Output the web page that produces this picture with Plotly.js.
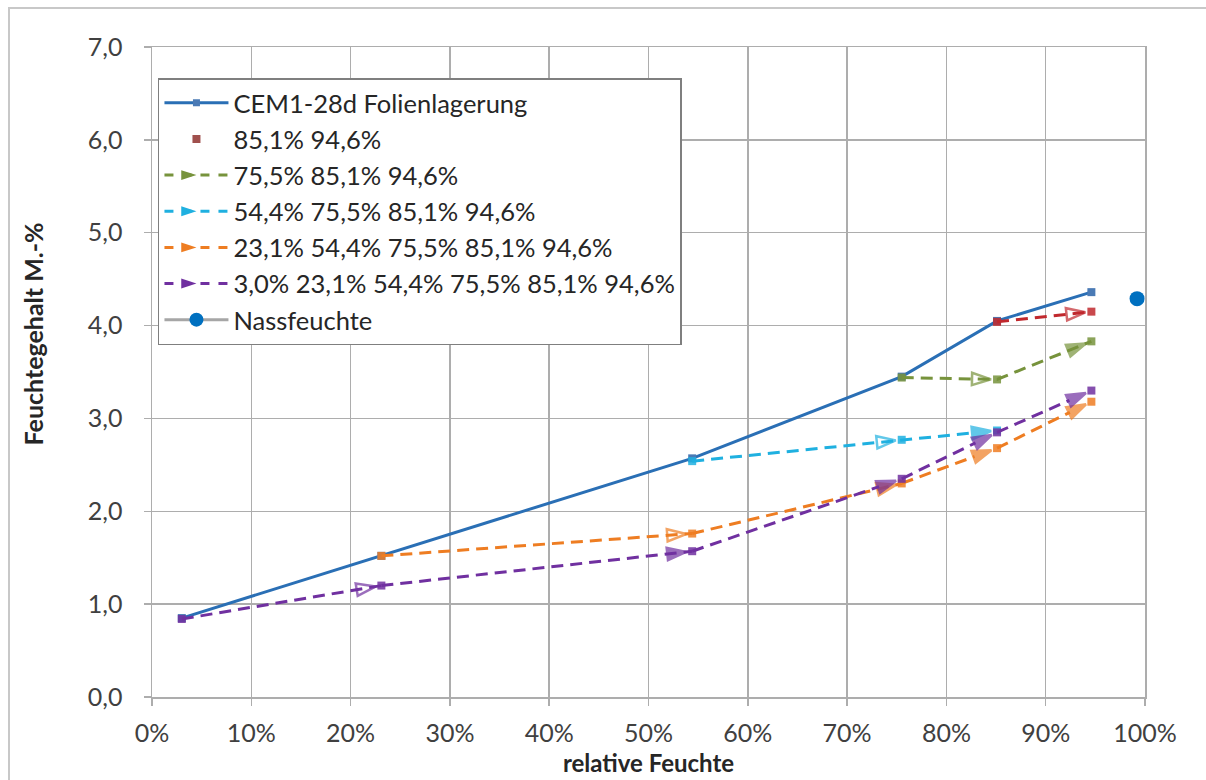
<!DOCTYPE html>
<html><head><meta charset="utf-8">
<script src="https://cdn.plot.ly/plotly-3.0.1.min.js"></script>
<style>html,body{margin:0;padding:0;background:#fff}#chart{width:1206px;height:780px}</style>
</head><body><div id="chart"></div>
<script>
// ---- data ----
const rhCem = [3.0, 23.1, 54.4, 75.5, 85.1, 94.6];
const valCem = [0.85, 1.52, 2.57, 3.45, 4.05, 4.36];
const rh851 = [85.1, 94.6];
const val851 = [4.04, 4.15];
const rh755 = [75.5, 85.1, 94.6];
const val755 = [3.44, 3.42, 3.83];
const rh544 = [54.4, 75.5, 85.1];
const val544 = [2.54, 2.77, 2.87];
const rh231 = [23.1, 54.4, 75.5, 85.1, 94.6];
const val231 = [1.52, 1.76, 2.30, 2.68, 3.18];
const rh30 = [3.0, 23.1, 54.4, 75.5, 85.1, 94.6];
const val30 = [0.84, 1.20, 1.57, 2.35, 2.85, 3.30];
const rhNass = [99.2];
const valNass = [4.29];
const names = [
  "CEM1-28d Folienlagerung",
  "85,1% 94,6%",
  "75,5% 85,1% 94,6%",
  "54,4% 75,5% 85,1% 94,6%",
  "23,1% 54,4% 75,5% 85,1% 94,6%",
  "3,0% 23,1% 54,4% 75,5% 85,1% 94,6%",
  "Nassfeuchte"
];
const xTitle = "relative Feuchte";
const yTitle = "Feuchtegehalt M.-%";

// ---- styles ----
const cBlue = "#2a6fb5", cBlueMk = "#4a7ab5";
const cRed = "#c0282d", cRedLeg = "#a0504d";
const cGreen = "#77933c";
const cCyan = "#1fb0e0";
const cOrange = "#ee7d22";
const cPurple = "#7030a0";
const cNass = "#0070c0";
const dashPat = "12px,7px";
const FONT = "Lato, 'Open Sans', sans-serif";

function arrowSymbols(n, openIdx) {
  const s = [];
  for (let i = 0; i < n; i++) s.push(i === 0 ? "square" : (openIdx.indexOf(i) >= 0 ? "arrow-open" : "arrow"));
  return s;
}
function arrowSizes(n) {
  const s = [];
  for (let i = 0; i < n; i++) s.push(i === 0 ? 0 : 20);
  return s;
}

function dashedSeries(xs, ys, color, openIdx) {
  const n = xs.length;
  return [
    {x: xs, y: ys, type: "scatter", mode: "lines+markers", showlegend: false, hoverinfo: "skip",
     line: {color: color, width: 3, dash: dashPat},
     marker: {symbol: arrowSymbols(n, openIdx), size: arrowSizes(n), color: color, angleref: "previous",
              standoff: 6, line: {color: color, width: 2.5}}},
    {x: xs, y: ys, type: "scatter", mode: "markers", showlegend: false, hoverinfo: "skip",
     marker: {symbol: "square", size: 8, color: color, opacity: 0.85}}
  ];
}

function legendEntry(name, mode, color, lineColor, dash, symbol, size, angle) {
  return {x: [null], y: [null], type: "scatter", mode: mode, name: name, showlegend: true,
    line: {color: lineColor, width: 3, dash: dash},
    marker: {symbol: symbol, size: size, color: color, angle: angle}};
}

const traces = [];
// main series
traces.push({x: rhCem, y: valCem, type: "scatter", mode: "lines+markers", showlegend: false,
  line: {color: cBlue, width: 3}, marker: {symbol: "square", size: 8, color: cBlueMk}});
traces.push(...dashedSeries(rh851, val851, cRed, [1]));
traces.push(...dashedSeries(rh755, val755, cGreen, [1]));
traces.push(...dashedSeries(rh544, val544, cCyan, [1]));
traces.push(...dashedSeries(rh231, val231, cOrange, [1]));
traces.push(...dashedSeries(rh30, val30, cPurple, [1]));
traces.push({x: rhNass, y: valNass, type: "scatter", mode: "markers", showlegend: false,
  marker: {symbol: "circle", size: 15, color: cNass}});

// legend entries
traces.push(legendEntry(names[0], "lines+markers", cBlueMk, cBlue, "solid", "square", 7, 0));
traces.push(legendEntry(names[1], "markers", cRedLeg, cRed, "solid", "square", 8, 0));
traces.push(legendEntry(names[2], "lines+markers", cGreen, cGreen, "dash", "arrow", 18, 90));
traces.push(legendEntry(names[3], "lines+markers", cCyan, cCyan, "dash", "arrow", 18, 90));
traces.push(legendEntry(names[4], "lines+markers", cOrange, cOrange, "dash", "arrow", 18, 90));
traces.push(legendEntry(names[5], "lines+markers", cPurple, cPurple, "dash", "arrow", 18, 90));
traces.push(legendEntry(names[6], "lines+markers", cNass, "#a6a6a6", "solid", "circle", 14, 0));

const gridC = "#adadad";
const layout = {
  width: 1206, height: 780,
  margin: {l: 152, r: 61, t: 47, b: 83},
  paper_bgcolor: "#ffffff", plot_bgcolor: "#ffffff",
  separators: ",.",
  font: {family: FONT, color: "#404040"},
  showlegend: true,
  legend: {x: 0.006, y: 0.952, xanchor: "left", yanchor: "top",
    bgcolor: "#ffffff", bordercolor: "#7f7f7f", borderwidth: 1.5,
    font: {family: FONT, size: 25.5, color: "#262626"},
    itemwidth: 64, tracegroupgap: 0, traceorder: "normal"},
  xaxis: {range: [0, 100], dtick: 10, tick0: 0, ticksuffix: "%", tickformat: "d",
    showgrid: true, gridcolor: gridC, gridwidth: 1.5,
    showline: true, linecolor: gridC, linewidth: 1.5, mirror: true,
    ticks: "outside", ticklen: 7, tickcolor: gridC, tickwidth: 1.5,
    ticklabelstandoff: 6,
    tickfont: {family: FONT, size: 25, color: "#404040"},
    zeroline: false, automargin: false,
    title: {text: xTitle, standoff: 9, font: {family: FONT, size: 24, color: "#262626", weight: "bold"}}},
  yaxis: {range: [0, 7], dtick: 1, tick0: 0, tickformat: ".1f",
    showgrid: true, gridcolor: gridC, gridwidth: 1.5,
    showline: true, linecolor: gridC, linewidth: 1.5, mirror: true,
    ticks: "outside", ticklen: 7, tickcolor: gridC, tickwidth: 1.5,
    ticklabelstandoff: 16,
    tickfont: {family: FONT, size: 25, color: "#404040"},
    zeroline: false, automargin: false},
  annotations: [
    {text: "<b>" + yTitle + "</b>", xref: "paper", yref: "paper", x: -0.12, y: 0.559,
     xanchor: "center", yanchor: "middle", textangle: -90, showarrow: false,
     font: {family: FONT, size: 25, color: "#262626"}}
  ],
  shapes: [
    {type: "rect", xref: "paper", yref: "paper", x0: -0.144, x1: 1.2, y0: -0.3, y1: 1.06,
     line: {color: "#c8c8c8", width: 2}, fillcolor: "rgba(0,0,0,0)", layer: "below"}
  ]
};

Plotly.newPlot("chart", traces, layout, {displayModeBar: false, staticPlot: true});
</script>
</body></html>
